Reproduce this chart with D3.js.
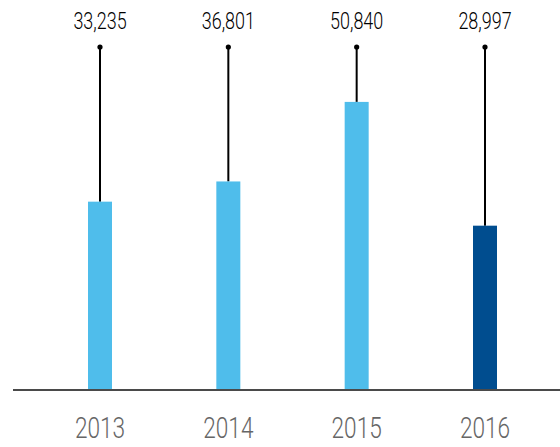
<!DOCTYPE html>
<html>
<head>
<meta charset="utf-8">
<script src="https://cdn.jsdelivr.net/npm/d3@7"></script>
<style>
  html, body { margin: 0; padding: 0; background: #fff; }
  svg { display: block; }
  text { font-family: Roboto, "Liberation Sans", sans-serif; }
</style>
</head>
<body>
<div id="chart"></div>
<script>
'use strict';

const years = ["2013", "2014", "2015", "2016"];
const values = [33235, 36801, 50840, 28997];
const highlightYear = "2016";

const width = 560;
const height = 447;
const baseY = 390;

let svg = d3.select("#chart").append("svg")
    .attr("width", width)
    .attr("height", height);

let x = d3.scalePoint()
    .domain(years)
    .range([100, 485]);

let y = d3.scaleLinear()
    .domain([0, 51000])
    .range([baseY, 101]);

let barW = 24;
let data = years.map((yr, i) => ({ year: yr, value: values[i] }));

// stems from label dot down to bar top
svg.append("g")
    .selectAll("line")
    .data(data)
    .enter().append("line")
    .attr("x1", d => x(d.year))
    .attr("x2", d => x(d.year))
    .attr("y1", 47)
    .attr("y2", d => y(d.value))
    .attr("stroke", "#000")
    .attr("stroke-width", 2);

svg.append("g")
    .selectAll("circle")
    .data(data)
    .enter().append("circle")
    .attr("cx", d => x(d.year))
    .attr("cy", 47)
    .attr("r", 2.6)
    .attr("fill", "#000");

svg.append("g")
    .selectAll("rect")
    .data(data)
    .enter().append("rect")
    .attr("x", d => x(d.year) - barW / 2)
    .attr("y", d => y(d.value))
    .attr("width", barW)
    .attr("height", d => y(0) - y(d.value))
    .attr("fill", d => d.year === highlightYear ? "#004d8f" : "#4fbdeb");

// baseline
svg.append("line")
    .attr("x1", 13)
    .attr("x2", width)
    .attr("y1", y(0))
    .attr("y2", y(0))
    .attr("stroke", "#4a4a4a")
    .attr("stroke-width", 2);

// value labels (condensed look via scaleX)
let fmt = d3.format(",");
svg.append("g")
    .selectAll("text")
    .data(data)
    .enter().append("text")
    .attr("transform", d => `translate(${x(d.year)},29) scale(0.78,1)`)
    .attr("text-anchor", "middle")
    .attr("font-size", 23)
    .attr("font-weight", 300)
    .attr("fill", "#000")
    .text(d => fmt(d.value));

// year labels
svg.append("g")
    .selectAll("text")
    .data(years)
    .enter().append("text")
    .attr("transform", d => `translate(${x(d)},438) scale(0.78,1)`)
    .attr("text-anchor", "middle")
    .attr("font-size", 29)
    .attr("font-weight", 300)
    .attr("fill", "#666")
    .text(d => d);
</script>
</body>
</html>
